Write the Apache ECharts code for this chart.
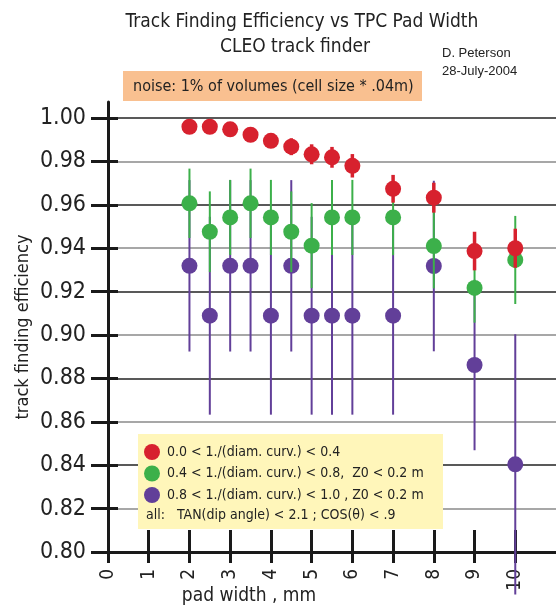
<!DOCTYPE html>
<html>
<head>
<meta charset="utf-8">
<script src="https://cdn.jsdelivr.net/npm/echarts@6/dist/echarts.min.js"></script>
<style>
  html, body { margin: 0; padding: 0; background: #fff; }
  #chart { width: 556px; height: 610px; }
</style>
</head>
<body>
<div id="chart"></div>
<script>
// pad width (mm) for every measured point
const padWidth = [2, 2.5, 3, 3.5, 4, 4.5, 5, 5.5, 6, 7, 8, 9, 10];

// 0.0 < 1/(diam curv) < 0.4
const effLow = [0.996, 0.996, 0.9948, 0.9923, 0.9895, 0.9868, 0.9833, 0.9819, 0.978, 0.9674, 0.9633, 0.9387, 0.940];
const errLow = [0.001, 0.0015, 0.002, 0.0025, 0.003, 0.0039, 0.0046, 0.0048, 0.0054, 0.0064, 0.0069, 0.0089, 0.009];

// 0.4 < 1/(diam curv) < 0.8
const effMid = [0.9607, 0.9476, 0.9542, 0.9607, 0.9542, 0.9476, 0.9412, 0.9542, 0.9542, 0.9542, 0.941, 0.9217, 0.9346];
const errMid = [0.016, 0.0186, 0.0173, 0.016, 0.0173, 0.0186, 0.0196, 0.0173, 0.0173, 0.0174, 0.0195, 0.016, 0.0203];

// 0.8 < 1/(diam curv) < 1.0
const effHigh = [0.9319, 0.9089, 0.9319, 0.9319, 0.9089, 0.9319, 0.9089, 0.9089, 0.9089, 0.9089, 0.9318, 0.8862, 0.8404];
const errHigh = [0.0395, 0.0456, 0.0395, 0.0395, 0.0456, 0.0395, 0.0456, 0.0456, 0.0456, 0.0456, 0.0393, 0.0393, 0.06];

const xTicks = [0, 1, 2, 3, 4, 5, 6, 7, 8, 9, 10];
const yTicks = [0.80, 0.82, 0.84, 0.86, 0.88, 0.90, 0.92, 0.94, 0.96, 0.98, 1.00];

const legendNames = [
  '0.0 < 1./(diam. curv.) < 0.4',
  '0.4 < 1./(diam. curv.) < 0.8,  Z0 < 0.2 m',
  '0.8 < 1./(diam. curv.) < 1.0 , Z0 < 0.2 m'
];
const colors = ['#d7212e', '#3cb04a', '#623f99'];

const labelFont = 'DejaVu Sans Condensed';

var chart = echarts.init(document.getElementById('chart'), null, { renderer: 'canvas' });

function points(vals) {
  return padWidth.map(function (x, i) { return [x, vals[i]]; });
}
function bars(vals, errs) {
  return padWidth.map(function (x, i) { return [x, vals[i] - errs[i], vals[i] + errs[i]]; });
}
function errorBar(width) {
  return function (params, api) {
    var lo = api.coord([api.value(0), api.value(1)]);
    var hi = api.coord([api.value(0), api.value(2)]);
    return {
      type: 'line',
      shape: { x1: lo[0], y1: lo[1], x2: hi[0], y2: hi[1] },
      style: { stroke: api.visual('color'), lineWidth: width }
    };
  };
}

var groups = [
  { vals: effHigh, errs: errHigh, color: colors[2], name: legendNames[2], w: 2, z: 2 },
  { vals: effMid, errs: errMid, color: colors[1], name: legendNames[1], w: 2, z: 3 },
  { vals: effLow, errs: errLow, color: colors[0], name: legendNames[0], w: 3.5, z: 4 }
];

var series = [];
groups.forEach(function (g) {
  series.push({
    name: g.name + ' err',
    type: 'custom',
    renderItem: errorBar(g.w),
    data: bars(g.vals, g.errs),
    encode: { x: 0, y: [1, 2] },
    itemStyle: { color: g.color },
    clip: false,
    silent: true,
    z: g.z
  });
  series.push({
    name: g.name,
    type: 'scatter',
    data: points(g.vals),
    symbol: 'circle',
    symbolSize: 16,
    itemStyle: { color: g.color, opacity: 1 },
    z: g.z
  });
});

var option = {
  animation: false,
  textStyle: { fontFamily: labelFont },
  grid: { left: 108, right: 0, top: 102, bottom: 58, containLabel: false, outerBoundsMode: 'none' },
  legend: {
    data: legendNames,
    orient: 'vertical',
    left: 144,
    top: 444,
    padding: 0,
    itemGap: 5.5,
    itemWidth: 16,
    itemHeight: 16,
    icon: 'circle',
    z: 100,
    textStyle: { fontFamily: labelFont, fontSize: 14, color: '#222', padding: [0, 0, 0, 2] }
  },
  xAxis: [{
    type: 'value',
    min: 0,
    max: 11,
    interval: 1,
    position: 'bottom',
    name: 'pad width , mm',
    nameLocation: 'middle',
    nameGap: 35,
    nameMoveOverlap: false,
    nameTextStyle: { fontFamily: labelFont, fontSize: 19, color: '#222', padding: [0, 0, 0, -166] },
    axisLine: { onZero: false, lineStyle: { color: '#1a1a1a', width: 3 } },
    axisTick: { customValues: xTicks, length: 11, lineStyle: { color: '#1a1a1a', width: 3 } },
    axisLabel: { customValues: xTicks, rotate: 90, margin: 17, fontSize: 19, color: '#222', fontFamily: labelFont },
    splitLine: { show: false }
  }, {
    type: 'value',
    min: 0,
    max: 11,
    position: 'bottom',
    axisLine: { show: false, onZero: false },
    axisTick: { inside: true, customValues: xTicks, length: 22, lineStyle: { color: '#1a1a1a', width: 3 } },
    axisLabel: { show: false },
    splitLine: { show: false }
  }],
  yAxis: [{
    type: 'value',
    min: 0.80,
    max: 1.0074,
    position: 'left',
    name: 'track finding efficiency',
    nameLocation: 'middle',
    nameGap: 76,
    nameMoveOverlap: false,
    nameRotate: 90,
    nameTextStyle: { fontFamily: labelFont, fontSize: 18, color: '#222' },
    axisLine: { onZero: false, lineStyle: { color: '#1a1a1a', width: 3 } },
    axisTick: { customValues: yTicks, length: 17, lineStyle: { color: '#1a1a1a', width: 3 } },
    axisLabel: {
      customValues: yTicks,
      margin: 22,
      fontSize: 23,
      color: '#222',
      fontFamily: labelFont,
      formatter: function (v) { return v.toFixed(2); }
    },
    splitLine: {
      show: true,
      customValues: yTicks,
      showMinLine: false,
      lineStyle: { color: ['#8a8a8a', '#222'], width: 1.5 }
    }
  }, {
    type: 'value',
    min: 0.80,
    max: 1.0074,
    position: 'left',
    axisLine: { show: false, onZero: false },
    axisTick: { inside: true, customValues: yTicks, length: 10, lineStyle: { color: '#1a1a1a', width: 3 } },
    axisLabel: { show: false },
    splitLine: { show: false }
  }],
  graphic: [
    {
      type: 'text', z: 50,
      style: { text: 'Track Finding Efficiency vs TPC Pad Width', x: 302, y: 22, textAlign: 'center', textVerticalAlign: 'middle', fontFamily: labelFont, fontSize: 19, fill: '#222' }
    },
    {
      type: 'text', z: 50,
      style: { text: 'CLEO track finder', x: 295, y: 47, textAlign: 'center', textVerticalAlign: 'middle', fontFamily: labelFont, fontSize: 19, fill: '#222' }
    },
    {
      type: 'text', z: 50,
      style: { text: 'D. Peterson', x: 442, y: 53, textVerticalAlign: 'middle', fontFamily: 'Liberation Sans', fontSize: 13, fill: '#222' }
    },
    {
      type: 'text', z: 50,
      style: { text: '28-July-2004', x: 442, y: 71, textVerticalAlign: 'middle', fontFamily: 'Liberation Sans', fontSize: 13, fill: '#222' }
    },
    {
      type: 'rect', z: 40,
      shape: { x: 123, y: 71, width: 299, height: 30 },
      style: { fill: '#f9c090' }
    },
    {
      type: 'text', z: 50,
      style: { text: 'noise: 1% of volumes (cell size * .04m)', x: 133, y: 87, textVerticalAlign: 'middle', fontFamily: labelFont, fontSize: 16, fill: '#222' }
    },
    {
      type: 'rect', z: 40,
      shape: { x: 138, y: 434, width: 305, height: 95 },
      style: { fill: '#fff6ba' }
    },
    {
      type: 'text', z: 50,
      style: { text: 'all:   TAN(dip angle) < 2.1 ; COS(\u03b8) < .9', x: 146, y: 515, textVerticalAlign: 'middle', fontFamily: labelFont, fontSize: 14, fill: '#222' }
    }
  ],
  series: series
};

chart.setOption(option);
</script>
</body>
</html>
